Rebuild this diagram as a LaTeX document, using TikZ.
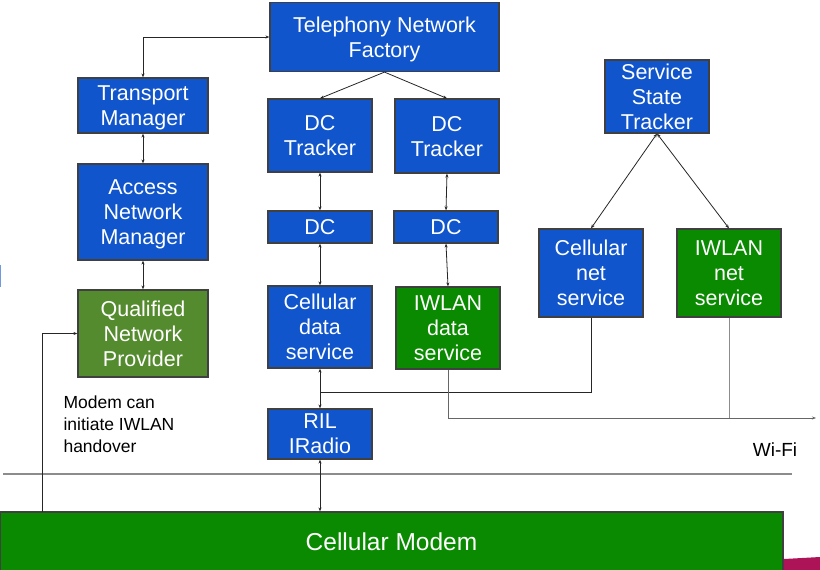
\documentclass[tikz,border=0pt]{standalone}
\usepackage{fontspec}
\setmainfont{Liberation Sans}
\usetikzlibrary{arrows.meta}
\definecolor{boxblue}{HTML}{1155CC}
\definecolor{boxgreen}{HTML}{0A8A00}
\definecolor{qnpgreen}{HTML}{558B2F}
\definecolor{slidemagenta}{HTML}{AD1457}
\begin{document}
\begin{tikzpicture}[x=1pt, y=-1pt,
		block/.style={draw=black!75, line width=1.2pt, fill=boxblue, text=white, align=center,
			inner sep=0pt, text depth=0pt, font=\fontsize{21.5}{25}\selectfont},
		wlan/.style={block, fill=boxgreen},
		link/.style={line width=0.8pt, black!85},
		tip/.style={-{Stealth[length=4pt, width=3pt]}},
		tips/.style={{Stealth[length=4pt, width=3pt]}-{Stealth[length=4pt, width=3pt]}}]
	\useasboundingbox (0,0) rectangle (820,570);
	
	% Framework side
	\node[block, minimum width=229pt, minimum height=69pt] (tnf) at (384.5,37) {Telephony Network\\Factory};
	\node[block, minimum width=130pt, minimum height=55pt] (tm) at (143,105.5) {Transport\\Manager};
	\node[block, minimum width=130pt, minimum height=96pt] (anm) at (143,212) {Access\\Network\\Manager};
	\node[block, fill=qnpgreen, minimum width=130pt, minimum height=87pt] (qnp) at (143,333.5) {Qualified\\Network\\Provider};
	
	% Data connections
	\node[block, minimum width=104pt, minimum height=73pt] (dct1) at (320,135.5) {DC\\Tracker};
	\node[block, minimum width=104pt, minimum height=74pt] (dct2) at (447,136) {DC\\Tracker};
	\node[block, minimum width=104pt, minimum height=32pt] (dc1) at (320,227) {DC};
	\node[block, minimum width=104pt, minimum height=32pt] (dc2) at (446,227) {DC};
	\node[block, minimum width=104pt, minimum height=82pt] (cds) at (320,327) {Cellular\\data\\service};
	\node[wlan, minimum width=104pt, minimum height=82pt] (ids) at (448,328) {IWLAN\\data\\service};
	\node[block, minimum width=104pt, minimum height=50pt] (ril) at (320,434) {RIL\\IRadio};
	
	% Service state
	\node[block, minimum width=104pt, minimum height=73pt] (sst) at (657,96.5) {Service\\State\\Tracker};
	\node[block, minimum width=104pt, minimum height=88pt] (cns) at (591,273) {Cellular\\net\\service};
	\node[wlan, minimum width=104pt, minimum height=88pt] (ins) at (729,273) {IWLAN\\net\\service};
	
	% Modem
	\draw[line width=1.5pt, black!45] (3,474) -- (792,474);
	\node[wlan, font=\fontsize{24.5}{28}\selectfont, minimum width=783pt, minimum height=60pt] (modem) at (391.5,542) {Cellular Modem};
	\fill[slidemagenta] (784,559) -- (820,557) -- (820,570) -- (784,570) -- cycle;
	\draw[line width=1pt, boxblue!60] (0.5,265) -- (0.5,287);
	
	\node[anchor=west, align=left, font=\fontsize{17.5}{22}\selectfont] (note) at (60,424) {Modem can\\initiate IWLAN\\handover};
	\node[font=\fontsize{19}{22}\selectfont] (wifi) at (775,450) {Wi-Fi};
	
	% Connectors
	\coordinate (mup) at (42,512);
	\coordinate (cjoin) at (320,392);
	\coordinate (wend) at (816,418);
	\draw[link, tips] (tm.north) |- (tnf.west);
	\draw[link, tips] (tm) -- (anm);
	\draw[link, tips] (anm) -- (qnp);
	\draw[link, tip] (tnf.south) -- (dct1.north);
	\draw[link, tip] (tnf.south) -- (dct2.north);
	\draw[link, tips] (dct1) -- (dc1);
	\draw[link, tips] (dc1) -- (cds);
	\draw[link, tips] (dct2.south) -- (dc2.north);
	\draw[link, tips] (dc2.south) -- (ids.north);
	\draw[link, tips] (cds) -- (ril);
	\draw[link, tips] (ril.south) -- (ril.south |- modem.north);
	\draw[link, tips] (sst.south) -- (cns.north);
	\draw[link, tips] (sst.south) -- (ins.north);
	\draw[link] (cns.south) |- (cjoin);
	\draw[link, black!60, tip] (ids.south) |- (wend);
	\draw[link, black!45] (ins.south) -- (ins.south |- wend);
	\draw[link, tip] (mup) |- (qnp.west);
\end{tikzpicture}
\end{document}
